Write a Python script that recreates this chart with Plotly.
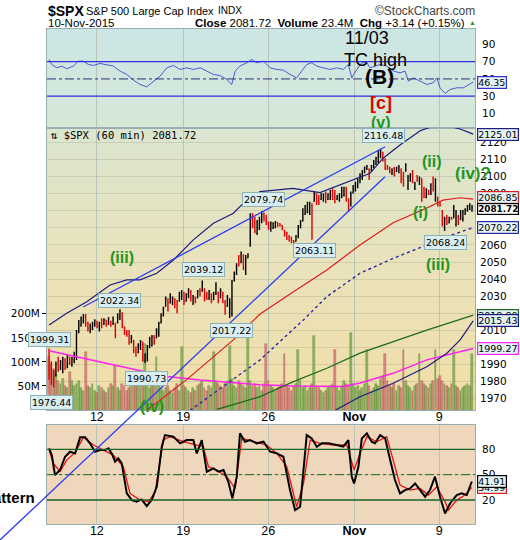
import plotly.graph_objects as go

# hourly $SPX bars (7 Oct - 10 Nov 2015)
opens = [
    1995, 1984, 1981, 1984, 1992, 1988, 1987, 1992, 1989, 1994,
    1990, 1992, 1995, 2009, 2013, 2016, 2018, 2014, 2010, 2012,
    2013, 2015, 2012, 2016, 2014, 2016, 2014, 2015, 2014, 2014,
    2014.5, 2017, 2020, 2012, 2009, 2008, 2003, 2004, 1998, 1997,
    2000, 2003, 1992, 1994, 2000, 2001, 2006, 2005.5, 2008, 2015,
    2019, 2024, 2028, 2026, 2026, 2028, 2025, 2027, 2029, 2032,
    2027, 2030, 2033, 2026, 2029, 2029, 2034, 2033, 2034, 2031,
    2029, 2031, 2028, 2032, 2032, 2029, 2032, 2026, 2024, 2020,
    2020, 2039, 2043, 2053, 2050, 2054, 2045, 2052.5, 2060, 2077,
    2073, 2067, 2070, 2074, 2078, 2076, 2073, 2069, 2070, 2071,
    2073, 2072.5, 2071, 2068.5, 2067, 2065, 2064, 2062.5, 2062.2, 2065,
    2070, 2074, 2078, 2079, 2079, 2083, 2085.5, 2090, 2086, 2087,
    2086, 2090, 2087, 2087, 2092, 2088, 2086.8, 2086, 2088, 2089,
    2093.5, 2086, 2083, 2090.5, 2092, 2094, 2097, 2099, 2102.5, 2104.5,
    2104, 2103.5, 2105.5, 2107.5, 2109, 2112, 2114, 2110, 2106, 2105,
    2101.5, 2105, 2103.2, 2102.5, 2104, 2099, 2103.5, 2094, 2098, 2103,
    2093, 2100.5, 2096, 2099, 2093, 2088, 2092, 2090, 2099, 2087,
    2088, 2085, 2080, 2070, 2076, 2073, 2076.2, 2076, 2072, 2077,
    2075, 2075, 2078, 2080, 2081, 2080.5,
]
highs = [
    1999.31, 1991.6, 1986.7, 1991.6, 1994.5, 1992.5, 1994.5, 1993.5, 1995.5, 1994.5,
    1994.5, 1997.4, 2010.1, 2016, 2018, 2019.5, 2019.5, 2015, 2014, 2015,
    2016.4, 2015.6, 2015, 2017, 2017, 2016, 2017.6, 2015.5, 2018, 2014.4,
    2019.9, 2022.34, 2020.5, 2012.1, 2010.1, 2010.1, 2007.2, 2004.3, 2000.4, 2002.3,
    2004.3, 2003.3, 1996.5, 2001.3, 2006.2, 2007.2, 2007.2, 2011.1, 2015, 2019.9,
    2023.8, 2029.7, 2028.7, 2031.7, 2029.7, 2028.7, 2027.7, 2032.6, 2033.6, 2032.6,
    2031.7, 2034.6, 2033.6, 2030.7, 2029.7, 2033.6, 2034.6, 2039.12, 2034.6, 2032.6,
    2033.6, 2031.7, 2032.6, 2038.1, 2032.6, 2034.6, 2032.6, 2027.7, 2030.7, 2028.7,
    2039.5, 2044.4, 2049.3, 2054.1, 2056.1, 2054.5, 2054.1, 2055.1, 2078.6, 2078.6,
    2076.6, 2074.7, 2076.6, 2079.74, 2079, 2077.6, 2073.7, 2073.7, 2073.3, 2074.1,
    2073.3, 2072.7, 2071.7, 2068.8, 2067.8, 2065.9, 2064.9, 2062.9, 2065.9, 2071.7,
    2074.7, 2081.5, 2083.5, 2085.4, 2085.4, 2084.4, 2091.3, 2090.3, 2089.3, 2090.3,
    2090.3, 2091.3, 2090.3, 2092.3, 2093.2, 2092.3, 2089.3, 2090.3, 2094.2, 2094.2,
    2094.2, 2087.4, 2091.3, 2095.2, 2097.1, 2099.1, 2102, 2104, 2106, 2106.9,
    2105, 2106.9, 2109.9, 2111.8, 2115.7, 2116.48, 2114.7, 2110.8, 2106.9, 2105.9,
    2105, 2105.9, 2105.9, 2106.9, 2105, 2103, 2107.9, 2101, 2102, 2104,
    2097.1, 2101, 2100.1, 2099.1, 2094.2, 2093.2, 2092.3, 2096.2, 2100.1, 2099.1,
    2088.4, 2085.4, 2080.5, 2076.6, 2077.6, 2076.6, 2076.6, 2083.5, 2080.5, 2077.6,
    2080.5, 2080.5, 2081.5, 2083.5, 2084.4, 2083.5,
]
lows = [
    1981, 1977.9, 1976.44, 1982.8, 1985.7, 1986.7, 1984.7, 1986.7, 1987.7, 1989.6,
    1988.6, 1990.6, 1992.5, 2008.2, 2012.1, 2014, 2012.1, 2009.2, 2008.2, 2010.1,
    2012.1, 2011.1, 2009.2, 2011.1, 2013, 2012.1, 2013, 2012.1, 2013, 2005.3,
    2014, 2016, 2011.1, 2007.2, 2006.2, 2001.4, 2002.3, 1996.5, 1994.5, 1996.5,
    1998.4, 1991.6, 1990.73, 1991.6, 1999.4, 2000.4, 2001.4, 2005.3, 2006.2, 2014,
    2018, 2023.8, 2020.9, 2025.8, 2024.8, 2022.9, 2019.9, 2026.8, 2027.7, 2024.8,
    2026.8, 2028.7, 2026.8, 2024.8, 2025.8, 2028.7, 2029.7, 2032.6, 2026.8, 2027.7,
    2027.7, 2025.8, 2027.7, 2030.7, 2025.8, 2028.7, 2025.8, 2019, 2023.8, 2017.22,
    2018, 2038.5, 2042.4, 2047.3, 2049.3, 2045.3, 2042.4, 2052.2, 2059, 2069.8,
    2066.8, 2065.9, 2068.8, 2072.7, 2073.7, 2071.7, 2068.8, 2067.8, 2069.4, 2069.8,
    2070.8, 2070.8, 2068.8, 2064.9, 2062.9, 2062, 2061, 2059.5, 2062, 2063.9,
    2069.8, 2073.7, 2077.6, 2078.6, 2077.6, 2063.11, 2085.4, 2083.5, 2083.5, 2086.4,
    2085.4, 2084.4, 2086.4, 2086.4, 2086.4, 2084.4, 2086.4, 2085.4, 2087.4, 2088.4,
    2085.4, 2079.5, 2082.5, 2090.3, 2091.3, 2093.2, 2096.2, 2098.1, 2102, 2104,
    2098.1, 2103, 2105, 2106.9, 2107.9, 2110.8, 2108.9, 2104, 2104, 2102,
    2101, 2100.1, 2103, 2102, 2096.2, 2094.2, 2103, 2092.3, 2097.1, 2096.2,
    2092.3, 2097.1, 2095.2, 2085.4, 2087.4, 2087.4, 2089.3, 2089.3, 2091.3, 2085.4,
    2082.5, 2082.5, 2070.8, 2068.24, 2071.7, 2072.7, 2074.7, 2075.6, 2070.8, 2071.7,
    2074.7, 2073.7, 2077.6, 2079.5, 2080.5, 2079.5,
]
closes = [
    1984, 1980, 1979, 1990, 1987, 1991, 1993, 1988, 1994, 1991,
    1993, 1996, 2008, 2014, 2017, 2018, 2014, 2011, 2013, 2014,
    2015.5, 2013, 2014, 2013, 2016, 2014, 2017, 2013, 2017, 2007,
    2019, 2021, 2013, 2008, 2007, 2003, 2006, 1998, 1996, 2001,
    2003, 1994, 1995, 2000, 2005, 2006, 2003, 2010, 2014, 2019,
    2023, 2029, 2023, 2030, 2029, 2024, 2021, 2032, 2033, 2026,
    2031, 2034, 2028, 2030, 2026.5, 2033, 2031, 2037, 2028, 2029,
    2033, 2027, 2032, 2036, 2027, 2033, 2027, 2021, 2029, 2026,
    2038, 2044, 2048, 2049, 2055, 2047, 2052, 2054.5, 2077, 2071,
    2068, 2073, 2075, 2078, 2075, 2073, 2070, 2073, 2072.5, 2073.5,
    2071, 2071.2, 2069, 2066, 2064, 2063, 2062, 2061, 2065.5, 2071,
    2074, 2081, 2083, 2084, 2085, 2080, 2090, 2085, 2084.5, 2089.5,
    2089, 2085, 2089.5, 2091.5, 2087, 2085, 2088.8, 2089.5, 2093.5, 2093.8,
    2086, 2081, 2090, 2094.5, 2096, 2098, 2101, 2103, 2105.5, 2106.5,
    2100, 2106, 2109, 2111, 2114.5, 2115, 2110, 2105, 2104.5, 2102.5,
    2104, 2101, 2105.4, 2106, 2098, 2096, 2107, 2100, 2101.5, 2097,
    2096, 2097.5, 2099.5, 2088, 2088.5, 2092, 2090, 2095, 2093, 2098,
    2084, 2083, 2072, 2075, 2073, 2076, 2075, 2082, 2079, 2073,
    2079.5, 2080, 2081, 2083, 2084, 2081.72,
]
volumes_m = [
    110, 95, 85, 75, 60, 55, 65, 50, 45, 80,
    60, 50, 55, 60, 45, 40, 120, 50, 45, 55,
    40, 35, 50, 45, 40, 35, 45, 55, 50, 92,
    45, 40, 55, 50, 40, 45, 60, 55, 50, 65,
    70, 60, 137, 55, 45, 50, 60, 110, 50, 45,
    40, 45, 50, 40, 35, 45, 55, 40, 130, 50,
    45, 40, 35, 45, 40, 50, 55, 60, 45, 40,
    50, 45, 120, 60, 55, 50, 45, 55, 60, 134,
    65, 50, 45, 60, 55, 50, 45, 162, 60, 50,
    55, 45, 50, 40, 55, 137, 60, 50, 45, 40,
    45, 50, 55, 117, 50, 45, 40, 50, 55, 124,
    60, 45, 50, 40, 45, 55, 153, 50, 45, 40,
    35, 40, 45, 50, 55, 124, 45, 40, 50, 60,
    55, 50, 160, 55, 45, 50, 40, 45, 55, 124,
    50, 40, 45, 55, 50, 65, 70, 117, 60, 50,
    45, 55, 40, 50, 45, 124, 60, 50, 45, 40,
    50, 55, 117, 60, 55, 50, 45, 55, 60, 124,
    65, 70, 60, 55, 50, 45, 55, 124, 50, 45,
    40, 45, 50, 55, 50, 117,
]

# overlays on the price panel (bar index, price)
upper_band_x = [0, 7.7, 16.5, 26.7, 34, 39.8, 47.1, 54.4, 63.1, 71.9, 80.6, 85.7,
                92.3, 106.7, 118.5, 128.6, 140.4, 146.1, 153.5, 162.3, 171, 179.8, 185.5]
upper_band = [2013, 2020, 2026.7, 2036.5, 2039.5, 2039.5, 2043.4, 2051.2, 2063, 2072.7, 2078.6, 2085.4,
              2091.3, 2093.2, 2090.7, 2096, 2102, 2110.9, 2118.6, 2127, 2131, 2128, 2125.01]
lower_band_x = [121, 136, 150.5, 165.2, 174, 179.8, 185.5]
lower_band = [1960, 1971, 1978.9, 1988.6, 1996.5, 2004.3, 2015.43]
red_ma_x = [42.7, 60.2, 80.6, 92.3, 106.9, 121.5, 136, 150.5, 165.2, 172.3, 179.8, 185.5]
red_ma = [1963, 1981, 2004.3, 2019.5, 2032.6, 2045.3, 2060, 2073, 2081.7, 2086.3, 2087.7, 2086.85]
dotted_ma_x = [61.7, 92.3, 111.2, 121.5, 136, 150.6, 165.2, 174, 185.6]
dotted_ma = [1963, 1992.6, 2016, 2029.7, 2043.4, 2052.2, 2060, 2064.9, 2070.22]
green_ma_x = [73.4, 92.3, 106.9, 121.5, 136, 150.6, 165.2, 185.6]
green_ma = [1963.5, 1971, 1979.8, 1987.7, 1996.5, 2003.3, 2010.1, 2018.8]
magenta_ma_x = [0, 22.3, 51.5, 66, 92.3, 106.7, 128.6, 136, 150.5, 165.2, 185.5]
magenta_ma = [1998, 1991.6, 1982.8, 1980.8, 1978, 1977.3, 1977, 1979, 1984.7, 1992.6, 1999.27]
channel_x = [14.9, 147]
channel_y = [2023.6, 2117.6]

# RSI panel
rsi_x = [0, 1.2, 3.4, 5.5, 7.7, 10.6, 12.8, 15, 17.2, 19.4, 22.3, 25.2, 28.1, 31.1, 34,
         36.9, 39.8, 42.7, 45.6, 48.6, 51.5, 54.4, 57.3, 60.2, 63.1, 66.1, 69, 71.9, 74.8, 77.7,
         79.9, 81.4, 83.5, 86.5, 88.6, 90.8, 93.8, 96.7, 99.6, 102.5, 105.4, 108.3, 110.5, 112.7, 114.9,
         117.1, 120, 122.9, 125.8, 128.7, 130.9, 132.4, 134.6, 136.8, 139, 140.4, 144.8, 147.7, 150.6, 153.5,
         155.7, 157.2, 159.4, 162.3, 165.2, 168.1, 169.6, 171, 173.2, 175.4, 178.3, 181.2, 184.1, 185.5]
rsi = [72.6, 66.8, 62.9, 64.9, 61.8, 64.9, 70.7, 70.7, 66.8, 65.7, 68.0, 66.8, 64.9, 59.1, 55.2,
       48.6, 43.6, 40.8, 47.4, 53.3, 62.9, 65.7, 61.0, 62.9, 61.0, 62.9, 59.1, 55.2, 54.0, 49.4,
       43.6, 59.1, 64.9, 68.8, 72.6, 68.8, 70.7, 62.9, 61.0, 60.2, 55.2, 51.3, 59.1, 66.8, 68.8,
       64.9, 62.9, 61.0, 62.9, 61.0, 66.8, 51.3, 61.0, 68.8, 68.8, 62.9, 66.8, 64.9, 59.1, 57.1,
       59.1, 47.4, 51.3, 47.4, 43.6, 45.5, 51.3, 39.7, 33.1, 37.7, 39.7, 39.7, 43.6, 46.35]
rsi_levels = [70, 30]

# slow stochastics panel
stoch_k_x = [0, 1.2, 2.6, 4.8, 7.0, 9.2, 11.4, 13.6, 15.8, 17.9, 20.1, 22.3, 24.5, 26.0, 27.4,
             28.9, 30.3, 31.8, 34.0, 36.2, 38.3, 40.5, 42.7, 44.9, 47.1, 49.3, 50.7, 54.4, 57.3, 60.2,
             63.1, 64.6, 66.8, 69.0, 71.9, 74.1, 76.3, 78.4, 80.2, 82.1, 83.5, 85.7, 87.9, 90.8, 93.8,
             96.7, 99.6, 102.5, 105.4, 107.6, 109.8, 112.7, 114.9, 117.1, 119.3, 122.2, 125.8, 128.7, 130.9, 132.4,
             133.4, 135.3, 136.8, 139.0, 141.1, 142.6, 144.8, 147.0, 149.2, 151.3, 153.5, 155.7, 157.9, 160.1, 162.3,
             164.5, 166.6, 168.8, 171.0, 173.2, 175.4, 178.3, 180.5, 182.7, 184.9]
stoch_k = [81.1, 73.2, 49.5, 55.5, 71.2, 77.2, 75.2, 94.2, 94.2, 87.1, 77.2, 79.1, 79.1, 81.1, 75.2,
           65.3, 69.3, 63.4, 27.8, 19.9, 17.9, 20.7, 12.8, 19.9, 35.7, 83.1, 96.9, 95.0, 87.1, 91.0,
           91.0, 75.2, 91.0, 53.5, 57.4, 53.5, 55.5, 41.6, 21.9, 47.6, 98.9, 89.0, 91.0, 87.1, 89.0,
           77.2, 75.2, 71.2, 31.7, 8.1, 12.0, 96.9, 93.0, 83.1, 87.1, 87.1, 85.1, 83.1, 91.0, 47.6,
           39.6, 59.4, 93.0, 98.9, 89.0, 87.1, 96.9, 93.0, 67.3, 43.6, 27.8, 31.7, 33.7, 39.6, 31.7,
           23.9, 31.7, 47.6, 23.9, 4.1, 15.9, 25.8, 27.8, 25.8, 41.91]
stoch_d_x = [0, 1.9, 4.8, 7.7, 11.4, 15.0, 19.4, 23.8, 28.1, 32.5, 35.4, 39.8, 43.5, 46.4, 50.0,
             52.9, 58.8, 64.6, 67.5, 69.7, 73.3, 77.7, 81.4, 84.3, 89.4, 95.2, 99.6, 104.0, 108.3, 111.3,
             114.2, 118.5, 124.4, 130.2, 133.4, 136.0, 139.0, 143.3, 147.7, 150.6, 153.5, 157.9, 162.3, 165.9, 169.6,
             173.2, 174.7, 178.3, 181.9, 184.9]
stoch_d = [79.1, 63.4, 53.5, 67.3, 76.0, 94.2, 85.1, 79.1, 73.2, 59.4, 27.8, 19.9, 17.9, 29.8, 91.0,
           95.0, 89.0, 85.1, 83.1, 59.4, 55.5, 47.6, 33.7, 93.0, 89.0, 85.1, 75.2, 59.4, 12.0, 39.6,
           91.0, 87.1, 85.1, 85.1, 55.5, 75.2, 95.0, 89.0, 95.0, 67.3, 37.7, 31.7, 33.7, 25.8, 35.7,
           17.9, 8.1, 19.9, 25.8, 34.99]
stoch_levels = [80, 20]

tick_pos = [20.9, 58.7, 95.9, 133.5, 170.7]
tick_text = ["12", "19", "26", "<b>Nov</b>", "9"]

# page geometry in pixels
W, H = 520, 540
PL, PR, PT, PB = 47, 475, 29, 524
X_RANGE = [-0.9, 186.3]


def px(x):
    return (x - PL) / (PR - PL)


def py(y):
    return (PB - y) / (PB - PT)


def blend(c0, c1, t):
    return "rgb(%d,%d,%d)" % tuple(round(a + (b - a) * t) for a, b in zip(c0, c1))


bar_x = list(range(len(closes)))
GREEN = "#1e961e"
NAVY = "#1c1c7e"
SANS = "Liberation Sans, Arial, sans-serif"
VERD = "DejaVu Sans, Verdana, sans-serif"

fig = go.Figure()

# RSI
fig.add_trace(go.Scatter(x=rsi_x, y=rsi, mode="lines", line=dict(color="#4a5ad0", width=1),
                         xaxis="x", yaxis="y"))

# volume (base axis of the main panel so it sits under the price bars)
vol_fill = ["rgba(128,172,84,0.8)" if c >= o else "rgba(214,118,118,0.78)" for o, c in zip(opens, closes)]
vol_edge = ["#5f8a3a" if c >= o else "#b05a5a" for o, c in zip(opens, closes)]
fig.add_trace(go.Bar(x=bar_x, y=volumes_m, width=0.78, marker=dict(color=vol_fill, line=dict(color=vol_edge, width=0.5)),
                     xaxis="x2", yaxis="y2"))

overlays = [
    (magenta_ma_x, magenta_ma, "#ff22ee", 1.5, "solid"),
    (green_ma_x, green_ma, "#1d6b1d", 1.3, "solid"),
    (dotted_ma_x, dotted_ma, "#2828a0", 1.4, "dot"),
    (lower_band_x, lower_band, NAVY, 1.2, "solid"),
    (upper_band_x, upper_band, NAVY, 1.2, "solid"),
    (red_ma_x, red_ma, "#e01c1c", 1.2, "solid"),
    (channel_x, channel_y, "#2b3cf5", 1.3, "solid"),
]
for xs, ys, color, width, dash in overlays:
    fig.add_trace(go.Scatter(x=xs, y=ys, mode="lines", line=dict(color=color, width=width, dash=dash),
                             xaxis="x2", yaxis="y3"))

fig.add_trace(go.Ohlc(x=bar_x, open=opens, high=highs, low=lows, close=closes, tickwidth=0.35,
                      increasing=dict(line=dict(color="black", width=1.4)),
                      decreasing=dict(line=dict(color="#e00000", width=1.4)),
                      xaxis="x2", yaxis="y3"))

# stochastics
fig.add_trace(go.Scatter(x=stoch_d_x, y=stoch_d, mode="lines", line=dict(color="#ee1111", width=1.3),
                         xaxis="x3", yaxis="y4"))
fig.add_trace(go.Scatter(x=stoch_k_x, y=stoch_k, mode="lines", line=dict(color="black", width=2),
                         xaxis="x3", yaxis="y4"))

# background gradient bands
shapes = []
bg_stops = [(29, (204, 230, 229)), (128, (214, 231, 214)), (128, (219, 229, 207)),
            (270, (234, 226, 186)), (410, (241, 222, 166))]
for (y0, c0), (y1, c1) in zip(bg_stops[:-1], bg_stops[1:]):
    step = 3
    y = y0
    while y < y1:
        yb = min(y + step, y1)
        t = (y - y0) / max(y1 - y0, 1)
        shapes.append(dict(type="rect", xref="paper", yref="paper", x0=0, x1=1, y0=py(yb), y1=py(y),
                           fillcolor=blend(c0, c1, t), line=dict(width=0), layer="below"))
        y = yb
shapes.append(dict(type="rect", xref="paper", yref="paper", x0=0, x1=1, y0=0, y1=py(425),
                   fillcolor="rgb(238,215,186)", line=dict(width=0), layer="below"))

for lv in rsi_levels:
    shapes.append(dict(type="line", xref="paper", yref="y", x0=0, x1=1, y0=lv, y1=lv,
                       line=dict(color="#2f2fe0", width=1.3)))
shapes.append(dict(type="line", xref="paper", yref="y", x0=0, x1=1, y0=50, y1=50,
                   line=dict(color="#30307a", width=1, dash="dashdot")))
for lv in stoch_levels:
    shapes.append(dict(type="line", xref="paper", yref="y4", x0=0, x1=1, y0=lv, y1=lv,
                       line=dict(color="#1a6428", width=1.3)))
shapes.append(dict(type="line", xref="paper", yref="y4", x0=0, x1=1, y0=50, y1=50,
                   line=dict(color="#1a6428", width=1, dash="dashdot")))
# long lower trend line running through all panels
shapes.append(dict(type="line", xref="paper", yref="paper", x0=px(0), y0=py(540), x1=px(385), y1=py(176.7),
                   line=dict(color="#2b3cf5", width=1.3)))

ann = []


def note(text, x, y, size, color="black", bold=False, family=SANS, xanchor="center", **kw):
    if bold:
        text = "<b>%s</b>" % text
    ann.append(dict(text=text, x=px(x), y=py(y), xref="paper", yref="paper", showarrow=False,
                    xanchor=xanchor, yanchor="middle", font=dict(size=size, color=color, family=family), **kw))


# header
note("$SPX", 46, 11, 14, bold=True, xanchor="left")
note("S&P 500 Large Cap Index", 84, 11, 11, xanchor="left")
note("INDX", 216, 11, 10, xanchor="left")
note("©StockCharts.com", 477, 11, 12, color="#444", xanchor="right")
note("10-Nov-2015", 46, 23, 11.5, xanchor="left")
note("<b>Close</b> 2081.72  <b>Volume</b> 23.4M  <b>Chg</b> +3.14 (+0.15%)", 467, 23, 11.5, xanchor="right")
note("▲", 472, 23, 7, color="#2a9a2a")

# elliott wave notes
note("11/03", 367, 38, 18)
note("TC high", 375, 60, 18)
note("(B)", 379, 77, 21, bold=True)
note("[c]", 381, 103, 18, color="#e00000", bold=True)
note("(v)", 381, 122, 16, color=GREEN, bold=True)
note("(iii)", 122, 257, 16, color=GREEN, bold=True)
note("(iv)", 152, 406, 16, color=GREEN, bold=True)
note("(ii)", 432, 162, 16, color=GREEN, bold=True)
note("(iv)?", 473, 173, 17, color=GREEN, bold=True)
note("(i)", 420, 213, 16, color=GREEN, bold=True)
note("(iii)", 438, 264, 16, color=GREEN, bold=True)
note("Pattern", 37, 497, 15, bold=True, xanchor="right")
note("⇅ $SPX (60 min) 2081.72", 49, 135, 10.5, family="DejaVu Sans Mono, monospace", xanchor="left")

# swing point labels
for text, x, y in [("2116.48", 383, 136), ("2079.74", 263, 199), ("2063.11", 314, 250),
                   ("2039.12", 203, 269), ("2022.34", 119, 300), ("2017.22", 231, 331),
                   ("1999.31", 49, 339), ("1990.73", 146, 378), ("1976.44", 51, 402),
                   ("2068.24", 445, 242)]:
    note(text, x, y, 9.5, family=VERD, bgcolor="#d8eef0", bordercolor="#8fb0b5", borderwidth=1, borderpad=1)

# last value tags on the right edge
for text, val, yref, color, bold in [
    ("46.35", 46.35, "y", "#3030d0", False),
    ("2125.01", 2125.01, "y3", NAVY, False),
    ("2070.22", 2070.22, "y3", "#2828a0", False),
    ("2086.85", 2087.6, "y3", "#e01c1c", False),
    ("2081.72", 2081.2, "y3", "black", True),
    ("2018.80", 2018.8, "y3", "#1d6b1d", False),
    ("2015.43", 2015.43, "y3", NAVY, False),
    ("1999.27", 1999.27, "y3", "#ff22ee", False),
    ("34.99", 34.99, "y4", "#e01c1c", False),
    ("41.91", 41.91, "y4", "black", False),
]:
    ann.append(dict(text="<b>%s</b>" % text if bold else text, x=1, y=val, xref="paper", yref=yref,
                    xanchor="left", yanchor="middle", xshift=2, showarrow=False,
                    font=dict(size=8.8 if bold else 9.5, family=VERD, color="black"),
                    bgcolor="#e3f3f6" if not bold else "white", bordercolor=color, borderwidth=1.2, borderpad=0))

frame = dict(showline=True, mirror=True, linecolor="#98afb3", linewidth=1, automargin=False)
xgrid = dict(range=X_RANGE, tickvals=tick_pos, ticktext=tick_text, showgrid=True, gridcolor="#b7c4b7",
             gridwidth=1, zeroline=False, ticks="", ticklen=0, ticklabelstandoff=-5,
             tickfont=dict(size=12.5, family=SANS))

fig.update_layout(
    width=W, height=H, margin=dict(l=PL, r=W - PR, t=PT, b=H - PB, autoexpand=False),
    paper_bgcolor="white", plot_bgcolor="rgba(0,0,0,0)", showlegend=False, bargap=0,
    font=dict(family=VERD, size=10, color="black"),
    shapes=shapes, annotations=ann,
    xaxis=dict(domain=[0, 1], anchor="y", showticklabels=False, **xgrid, **frame),
    yaxis=dict(domain=[py(128), 1], anchor="x", range=[-7, 108], side="right",
               tickvals=[10, 30, 50, 70, 90], showgrid=False, zeroline=False, ticks="",
               ticklabelstandoff=4, tickfont=dict(size=10.5, family=VERD), **frame),
    xaxis2=dict(domain=[0, 1], anchor="y2", matches="x", rangeslider=dict(visible=False), **xgrid, **frame),
    yaxis2=dict(domain=[py(410), py(128)], anchor="x2", range=[0, 586], side="left",
                tickvals=[50, 100, 150, 200], ticktext=["50M", "100M", "150M", "200M"],
                showgrid=False, zeroline=False, ticks="outside", ticklen=4, tickcolor="black",
                tickfont=dict(size=10.5, family=VERD), **frame),
    yaxis3=dict(overlaying="y2", anchor="x2", side="right", range=[1963.2, 2128.6], tick0=1970, dtick=10,
                showgrid=True, gridcolor="rgba(160,165,140,0.35)", zeroline=False, ticks="", automargin=False,
                ticklabelstandoff=4, tickfont=dict(size=10.5, family=VERD)),
    xaxis3=dict(domain=[0, 1], anchor="y4", matches="x", **xgrid, **frame),
    yaxis4=dict(domain=[0, py(425)], anchor="x3", range=[-8.4, 108.8], side="right",
                tickvals=[20, 50, 80], showgrid=True, gridcolor="rgba(200,170,140,0.35)", zeroline=False,
                ticks="", ticklabelstandoff=4, tickfont=dict(size=10.5, family=VERD), **frame),
)

# the page's default 8px body margin would push the 520x540 figure off the window
fig.write_html("out.html", config={"displayModeBar": False},
               post_script="document.body.style.margin = '0px';")
